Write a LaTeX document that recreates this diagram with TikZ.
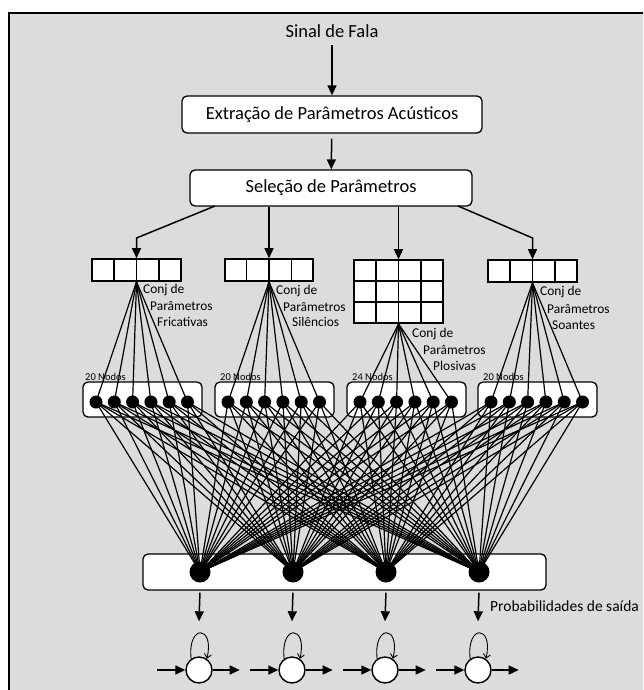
\documentclass[tikz,border=0pt]{standalone}
\usepackage{fontspec}
\setmainfont{Carlito}
\usetikzlibrary{arrows.meta,calc}
\definecolor{panel}{RGB}{220,220,220}
\begin{document}
\begin{tikzpicture}[x=1pt,y=-1pt,
  arr/.style={-{Triangle[length=10pt,width=9pt]}, line width=1.5pt},
  rbox/.style={draw, line width=1.3pt, fill=white, rounded corners=5pt, inner sep=0pt},
  wire/.style={line width=1.2pt},
  hunit/.style={circle, fill=black, inner sep=0pt, minimum size=13pt},
  outunit/.style={circle, fill=black, inner sep=0pt, minimum size=21pt},
  hmmstate/.style={circle, draw, line width=1.4pt, fill=white, inner sep=0pt, minimum size=26pt},
  bigtext/.style={font=\fontsize{18.5}{22}\selectfont},
  midtext/.style={font=\fontsize{15.5}{18}\selectfont},
  smalltext/.style={font=\fontsize{13.4}{16}\selectfont, anchor=west, inner sep=0pt},
  tinytext/.style={font=\fontsize{10.5}{12}\selectfont, anchor=west, inner sep=0pt},
  setbox/.style={draw, line width=1.6pt, fill=white, inner sep=0pt},
  divider/.style={line width=1.6pt}
]
\useasboundingbox (0,0) rectangle (643,690);
\clip (0,0) rectangle (643,690);
% framed grey panel
\draw[line width=1.6pt, fill=panel] (9,13) rectangle (700,750);

% processing chain
\node[bigtext] (signal) at (332,31) {Sinal de Fala};
\node[rbox, bigtext, minimum width=300pt, minimum height=37pt] (extract) at (332,114.5) {Extração de Parâmetros Acústicos};
\node[rbox, bigtext, minimum width=282pt, minimum height=36pt] (select) at (331,188) {Seleção de Parâmetros};
\draw[arr, shorten <=4pt] (signal) -- (extract);
\draw[arr, shorten <=5pt] (extract) -- (select);

% parameter sets
\node[setbox, minimum width=89pt, minimum height=22pt] (fric) at (136.5,270) {};
\node[setbox, minimum width=88pt, minimum height=22pt] (sil) at (269,270) {};
\node[setbox, minimum width=89pt, minimum height=63pt] (plos) at (398.5,291.5) {};
\node[setbox, minimum width=89pt, minimum height=22pt] (soan) at (532.5,271) {};
\foreach \s in {fric,sil,plos,soan}
  \foreach \i in {1,2,3}
    \draw[divider] ($(\s.north west)!\i/4!(\s.north east)$) -- ($(\s.south west)!\i/4!(\s.south east)$);
\foreach \j in {1,2}
  \draw[divider] ($(plos.north west)!\j/3!(plos.south west)$) -- ($(plos.north east)!\j/3!(plos.south east)$);

% feeds from the selection stage
\coordinate (sL) at (215,206);
\coordinate (bL) at (136.5,238);
\coordinate (sR) at (458,206);
\coordinate (bR) at (532.5,238);
\draw[arr] (sL) -- (bL) -- (fric.north);
\draw[arr] (sR) -- (bR) -- (soan.north);
\draw[arr] (sil.north |- select.south) -- (sil.north);
\draw[arr] (plos.north |- select.south) -- (plos.north);

% set labels
\node[smalltext] (lf1) at (143,290) {Conj de};
\node[smalltext] (lf2) at (150,306) {Parâmetros};
\node[smalltext] (lf3) at (157,322) {Fricativas};
\node[smalltext] (ls1) at (276,291) {Conj de};
\node[smalltext] (ls2) at (283,307) {Parâmetros};
\node[smalltext] (ls3) at (292,322) {Silêncios};
\node[smalltext] (lp1) at (412,334) {Conj de};
\node[smalltext] (lp2) at (423,350) {Parâmetros};
\node[smalltext] (lp3) at (433,366) {Plosivas};
\node[smalltext] (lo1) at (540,292) {Conj de};
\node[smalltext] (lo2) at (547,309) {Parâmetros};
\node[smalltext] (lo3) at (552,325) {Soantes};

% hidden layers
\foreach \g/\l in {A/83,B/215,C/347,D/478} {
  \node[rbox, minimum width=119pt, minimum height=35pt] (box\g) at (\l+59.5,399.5) {};
  \foreach \i in {1,...,6}
    \node[hunit] (h\g\i) at (\l+13+18.3*\i-18.3,402) {};
}
\node[tinytext] (nA) at (85,377) {20 Nodos};
\node[tinytext] (nB) at (220,377) {20 Nodos};
\node[tinytext] (nC) at (352,377) {24 Nodos};
\node[tinytext] (nD) at (483,377) {20 Nodos};

% output layer
\node[rbox, minimum width=403pt, minimum height=36pt] (obox) at (344.5,572) {};
\foreach \o/\x in {1/200,2/293,3/386,4/479}
  \node[outunit] (o\o) at (\x,572) {};

% connections
\foreach \g/\s in {A/fric,B/sil,C/plos,D/soan}
  \foreach \i in {1,...,6}
    \draw[wire] (\s.south) -- (h\g\i.center);
\foreach \g in {A,B,C,D}
  \foreach \i in {1,...,6}
    \foreach \o in {1,...,4}
      \draw[wire] (h\g\i.center) -- (o\o.center);

% HMM states
\foreach \o/\x in {1/199,2/292,3/385,4/478} {
  \node[hmmstate] (s\o) at (\x,670) {};
  \draw[arr, shorten <=2pt] (o\o |- obox.south) -- ([yshift=35pt]s\o.north);
  \draw[arr] ([xshift=-28pt]s\o.west) -- (s\o.west);
  \draw[arr] (s\o.east) -- ([xshift=27pt]s\o.east);
  \draw[line width=0.9pt, -{Straight Barb[length=4pt,width=7pt]}]
    (s\o.125) .. controls +(-4,-35) and +(8,-34) .. (s\o.55);
}
\node[midtext, anchor=west, inner sep=0pt] (prob) at (490,606) {Probabilidades de saída};
\end{tikzpicture}
\end{document}
